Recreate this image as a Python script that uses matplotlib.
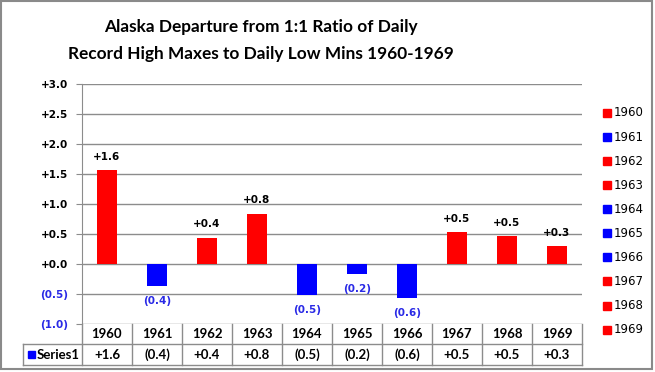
import matplotlib
matplotlib.use("Agg")
import matplotlib.pyplot as plt
from matplotlib.lines import Line2D
from matplotlib.patches import Rectangle

years = ['1960', '1961', '1962', '1963', '1964', '1965', '1966', '1967', '1968', '1969']
departure = [1.56, -0.36, 0.44, 0.84, -0.51, -0.16, -0.57, 0.53, 0.47, 0.30]
yticks = [-1.0, -0.5, 0.0, 0.5, 1.0, 1.5, 2.0, 2.5, 3.0]
series_name = 'Series1'
title = 'Alaska Departure from 1:1 Ratio of Daily\nRecord High Maxes to Daily Low Mins 1960-1969'

RED = '#ff0000'
BLUE = '#0000ff'
NEG_TXT = '#2a2ae6'
GRID = '#8c8c8c'

W, H = 655, 372


def fmt(v):
    return f"+{v:.1f}" if v >= 0 else f"({abs(v):.1f})"


def fx(x):
    return x / W


def fy(y):
    return 1 - y / H


colors = [RED if v >= 0 else BLUE for v in departure]

fig = plt.figure(figsize=(W / 100, H / 100), dpi=100)
fig.patches.append(Rectangle((fx(1), fy(369)), fx(651), 368 / H, transform=fig.transFigure,
                             fill=False, edgecolor='#8a8a8a', lw=1.5))

fig.text(fx(261), fy(27), title.split('\n')[0], ha='center', va='center', fontsize=12.4,
         fontweight='bold', family='Lato')
fig.text(fx(261), fy(54), title.split('\n')[1], ha='center', va='center', fontsize=12.4,
         fontweight='bold', family='Lato')

# main plot
ax = fig.add_axes([fx(82), fy(324), 500 / W, 240 / H])
x = range(len(years))
ax.bar(x, departure, width=0.4, color=colors, zorder=3)
ax.set_xlim(-0.5, len(years) - 0.5)
ax.set_ylim(-1.0, 3.0)
ax.set_yticks(yticks)
ax.set_yticklabels([fmt(v) for v in yticks], fontsize=7.5, fontweight='bold')
for lab, v in zip(ax.get_yticklabels(), yticks):
    lab.set_color(NEG_TXT if v < 0 else 'black')
ax.set_xticks([])
ax.tick_params(axis='y', length=4, color=GRID, pad=6)
ax.grid(axis='y', color=GRID, lw=1.0, zorder=0)
for s in ['top', 'right', 'bottom']:
    ax.spines[s].set_visible(False)
ax.spines['left'].set_color(GRID)

for i, v in enumerate(departure):
    off = 9.5 if v >= 0 else -11
    ax.annotate(fmt(v), (i, v), xytext=(0, off), textcoords='offset points',
                ha='center', va='center', fontsize=7.5, fontweight='bold',
                color='black' if v >= 0 else NEG_TXT)

# data table
axt = fig.add_axes([fx(82), fy(365), 500 / W, 41 / H])
axt.set_xlim(-0.5, len(years) - 0.5)
axt.set_ylim(41, 0)
axt.axis('off')
left = -0.5 - 59 / 50
for xx in [i - 0.5 for i in range(len(years) + 1)]:
    axt.add_line(Line2D([xx, xx], [0, 41], color=GRID, lw=1.0, clip_on=False))
axt.add_line(Line2D([left, left], [20, 41], color=GRID, lw=1.0, clip_on=False))
for yy in [20, 41]:
    axt.add_line(Line2D([left, 9.5], [yy, yy], color=GRID, lw=1.0, clip_on=False))
for i, (yr, v) in enumerate(zip(years, departure)):
    axt.text(i, 10.5, yr, ha='center', va='center', fontsize=9.5, fontweight='bold', family='Lato')
    axt.text(i, 31, fmt(v), ha='center', va='center', fontsize=9.5, fontweight='bold', family='Lato')
axt.add_patch(Rectangle((left + 5 / 50, 27), 7 / 50, 7, color=BLUE, clip_on=False))
axt.text(left + 14 / 50, 31, series_name, ha='left', va='center', fontsize=9.5,
         fontweight='bold', family='Lato')

# legend
for i, (yr, c) in enumerate(zip(years, colors)):
    yc = 113 + 24.07 * i
    fig.patches.append(Rectangle((fx(603), fy(yc + 4)), 8 / W, 8 / H, transform=fig.transFigure,
                                 color=c))
    fig.text(fx(614), fy(yc), yr, ha='left', va='center', fontsize=8.5)

fig.savefig('out.png', dpi=100)
